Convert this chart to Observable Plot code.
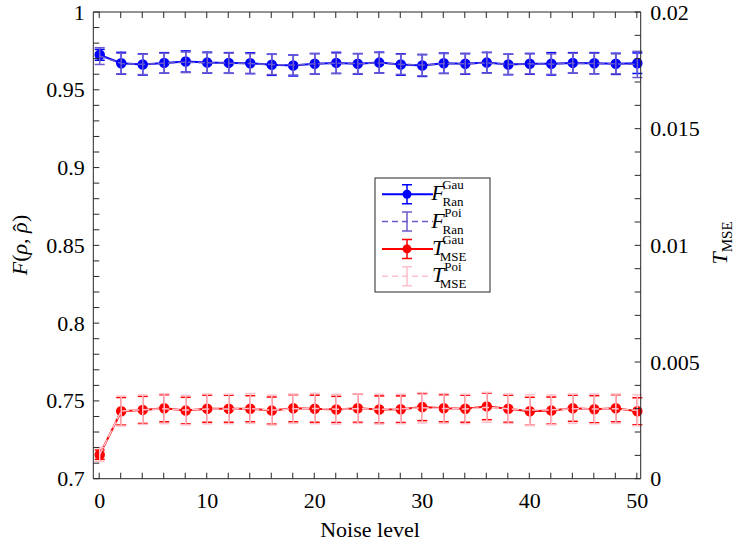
<!DOCTYPE html>
<html><head><meta charset="utf-8">
<script src="https://cdn.jsdelivr.net/npm/d3@7"></script>
<script src="https://cdn.jsdelivr.net/npm/@observablehq/plot@0.6"></script>
<style>body{margin:0;background:#fff}</style>
</head><body><div id="chart"></div>
<script>
// ---- data ----
const noise = [0,2,4,6,8,10,12,14,16,18,20,22,24,26,28,30,32,34,36,38,40,42,44,46,48,50];
const fGau = [0.9728,0.9674,0.9666,0.9676,0.9685,0.9678,0.9676,0.9674,0.9664,0.9659,0.9670,0.9676,0.9670,0.9678,0.9666,0.9659,0.9674,0.9670,0.9678,0.9666,0.9670,0.9670,0.9676,0.9674,0.9670,0.9674];
const fGauErr = [0.0035,0.0070,0.0068,0.0066,0.0068,0.0067,0.0066,0.0067,0.0068,0.0067,0.0066,0.0068,0.0066,0.0067,0.0069,0.0070,0.0065,0.0067,0.0066,0.0066,0.0067,0.0072,0.0066,0.0068,0.0068,0.0066];
const fPoi = [0.9720,0.9672,0.9667,0.9674,0.9680,0.9677,0.9674,0.9672,0.9666,0.9662,0.9670,0.9674,0.9671,0.9676,0.9667,0.9662,0.9672,0.9670,0.9676,0.9667,0.9670,0.9668,0.9674,0.9672,0.9670,0.9666];
const fPoiErr = [0.0054,0.0066,0.0066,0.0064,0.0066,0.0064,0.0065,0.0064,0.0065,0.0064,0.0066,0.0065,0.0064,0.0066,0.0065,0.0069,0.0064,0.0064,0.0066,0.0065,0.0064,0.0066,0.0064,0.0066,0.0064,0.0084];
const tGau = [0.00105,0.00291,0.00297,0.00304,0.00294,0.00302,0.00302,0.00302,0.00294,0.00304,0.00302,0.00299,0.00304,0.00299,0.00300,0.00309,0.00304,0.00302,0.00312,0.00302,0.00291,0.00294,0.00304,0.00300,0.00304,0.00291];
const tGauErr = [0.00020,0.00059,0.00058,0.00058,0.00057,0.00058,0.00058,0.00056,0.00058,0.00058,0.00058,0.00056,0.00060,0.00058,0.00057,0.00058,0.00058,0.00058,0.00057,0.00058,0.00060,0.00058,0.00056,0.00058,0.00058,0.00058];
const tPoi = [0.00106,0.00292,0.00298,0.00302,0.00296,0.00301,0.00301,0.00303,0.00296,0.00302,0.00303,0.00300,0.00302,0.00300,0.00301,0.00306,0.00303,0.00301,0.00308,0.00302,0.00296,0.00297,0.00302,0.00301,0.00302,0.00295];
const tPoiErr = [0.00030,0.00064,0.00063,0.00064,0.00063,0.00064,0.00063,0.00064,0.00064,0.00063,0.00065,0.00064,0.00063,0.00064,0.00063,0.00065,0.00064,0.00063,0.00064,0.00063,0.00066,0.00064,0.00063,0.00064,0.00063,0.00066];

const xTicks = [0,10,20,30,40,50];
const yLeftTicks = [0.7,0.75,0.8,0.85,0.9,0.95,1];
const yRightTicks = [0,0.005,0.01,0.015,0.02];
const T_MAX = 0.02, Y_MIN = 0.7, Y_MAX = 1;
const toLeft = t => Y_MIN + t / T_MAX * (Y_MAX - Y_MIN);
const fromLeft = v => (v - Y_MIN) / (Y_MAX - Y_MIN) * T_MAX;

const C = {fGau:"#0000ff", fPoi:"#6a5acd", tGau:"#ff0000", tPoi:"#ffc0cb"};

const series = [
  {key:"tGau", v:tGau, e:tGauErr, right:true, color:C.tGau, dash:null, marker:true},
  {key:"tPoi", v:tPoi, e:tPoiErr, right:true, color:C.tPoi, dash:"6,4", marker:false},
  {key:"fGau", v:fGau, e:fGauErr, right:false, color:C.fGau, dash:null, marker:true},
  {key:"fPoi", v:fPoi, e:fPoiErr, right:false, color:C.fPoi, dash:"6,4", marker:false}
];

const cap = {draw(ctx, size){ const w = Math.sqrt(size/Math.PI); ctx.moveTo(-w,0); ctx.lineTo(w,0); }};

const marks = [];
for (const s of series) {
  const conv = s.right ? toLeft : (d => d);
  const rows = noise.map((x,i) => ({x, y: conv(s.v[i]), lo: conv(s.v[i]-s.e[i]), hi: conv(s.v[i]+s.e[i])}));
  marks.push(Plot.ruleX(rows, {x:"x", y1:"lo", y2:"hi", stroke:s.color, strokeWidth:1.5}));
  marks.push(Plot.dot(rows, {x:"x", y:"lo", symbol:cap, r:5, stroke:s.color, fill:"none", strokeWidth:1.5}));
  marks.push(Plot.dot(rows, {x:"x", y:"hi", symbol:cap, r:5, stroke:s.color, fill:"none", strokeWidth:1.5}));
  marks.push(Plot.line(rows, {x:"x", y:"y", stroke:s.color, strokeWidth:s.dash?1.5:2, strokeDasharray:s.dash}));
  if (s.marker) marks.push(Plot.dot(rows, {x:"x", y:"y", r:4.5, fill:s.color, stroke:s.color}));
}

function frameTicks(index, scales, values, dim) {
  const {x, y} = scales;
  const L = dim.marginLeft, R = dim.width - dim.marginRight, T = dim.marginTop, B = dim.height - dim.marginBottom;
  let p = "";
  for (const v of d3.range(0, 50.001, 2)) { const px = x(v); p += `M${px},${B}v-6M${px},${T}v6`; }
  for (const v of d3.range(0.70, 1.0001, 0.01)) { p += `M${L},${y(v)}h6`; }
  for (const v of d3.range(0, 0.02001, 0.001)) { p += `M${R},${y(toLeft(v))}h-6`; }
  p += `M${L},${T}H${R}V${B}H${L}Z`;
  const g = d3.create("svg:g");
  g.append("path").attr("d", p).attr("fill","none").attr("stroke","#262626").attr("stroke-width",1);
  return g.node();
}

const FONT = "Liberation Serif, DejaVu Serif, Times New Roman, serif";
const W = 747, H = 549;
const svgNode = Plot.plot({
  width: W, height: H,
  marginLeft: 93.3, marginRight: 106.3, marginTop: 12, marginBottom: 70.3,
  style: {fontFamily: FONT, fontSize: "22px", color: "#000", background: "#fff"},
  x: {domain: [-0.55, 50.36]},
  y: {domain: [Y_MIN, Y_MAX]},
  marks: [
    ...marks,
    frameTicks,
    Plot.axisX({ticks: xTicks, tickSize: 0, tickPadding: 13, label: null, tickFormat: d => String(d)}),
    Plot.axisY({anchor: "left", ticks: yLeftTicks, tickSize: 0, tickPadding: 9, label: null, tickFormat: d => String(+d.toFixed(2))}),
    Plot.axisY({anchor: "right", ticks: yRightTicks.map(toLeft), tickSize: 0, tickPadding: 9, label: null, tickFormat: d => String(+fromLeft(d).toFixed(3))})
  ]
});
document.getElementById("chart").appendChild(svgNode);

const svg = d3.select(svgNode);
// axis labels
svg.append("text").attr("x", 370).attr("y", 537).attr("text-anchor","middle")
  .attr("font-family",FONT).attr("font-size",22).attr("fill","#000").text("Noise level");
const yl = svg.append("text").attr("transform","translate(27,245) rotate(-90)").attr("text-anchor","middle")
  .attr("font-family",FONT).attr("font-size",22).attr("fill","#000");
yl.append("tspan").attr("font-style","italic").text("F");
yl.append("tspan").text("(");
yl.append("tspan").attr("font-style","italic").text("ρ");
yl.append("tspan").text(", ");
yl.append("tspan").attr("font-style","italic").text("ρ");
yl.append("tspan").attr("dx",-9).attr("dy",1).text("\u02C6");
yl.append("tspan").attr("dx",2).attr("dy",-1).text(")");
const yr = svg.append("text").attr("transform","translate(727,243) rotate(-90)").attr("text-anchor","middle")
  .attr("font-family",FONT).attr("font-size",22).attr("fill","#000");
yr.append("tspan").attr("font-style","italic").text("T");
yr.append("tspan").attr("font-size",15).attr("dy",5).text("MSE");

// legend
const legendItems = [
  {main:"F", sup:"Gau", sub:"Ran", color:C.fGau, dash:null, marker:true},
  {main:"F", sup:"Poi", sub:"Ran", color:C.fPoi, dash:"6,4", marker:false},
  {main:"T", sup:"Gau", sub:"MSE", color:C.tGau, dash:null, marker:true},
  {main:"T", sup:"Poi", sub:"MSE", color:C.tPoi, dash:"6,4", marker:false}
];
const lg = svg.append("g").attr("transform","translate(375,178)");
lg.append("rect").attr("width",115).attr("height",114).attr("fill","#fff").attr("stroke","#262626").attr("stroke-width",1);
legendItems.forEach((it, i) => {
  const cy = 16.3 + i*27.3;
  const g = lg.append("g");
  g.append("line").attr("x1",7).attr("x2",58).attr("y1",cy).attr("y2",cy).attr("stroke",it.color)
    .attr("stroke-width", it.dash?1.5:2).attr("stroke-dasharray", it.dash);
  g.append("path").attr("d",`M32,${cy-9.5}V${cy+9.5}M27,${cy-9.5}h10M27,${cy+9.5}h10`).attr("stroke",it.color).attr("stroke-width",1.5).attr("fill","none");
  if (it.marker) g.append("circle").attr("cx",32).attr("cy",cy).attr("r",4.5).attr("fill",it.color);
  g.append("text").attr("x",63).attr("y",cy+6).attr("font-family",FONT).attr("font-size",22).attr("font-style","italic").attr("fill","#000").text(it.main);
  g.append("text").attr("x",78).attr("y",cy-5).attr("font-family",FONT).attr("font-size",13).attr("fill","#000").text(it.sup);
  g.append("text").attr("x",78).attr("y",cy+12).attr("font-family",FONT).attr("font-size",13).attr("fill","#000").text(it.sub);
});
</script>
</body></html>
